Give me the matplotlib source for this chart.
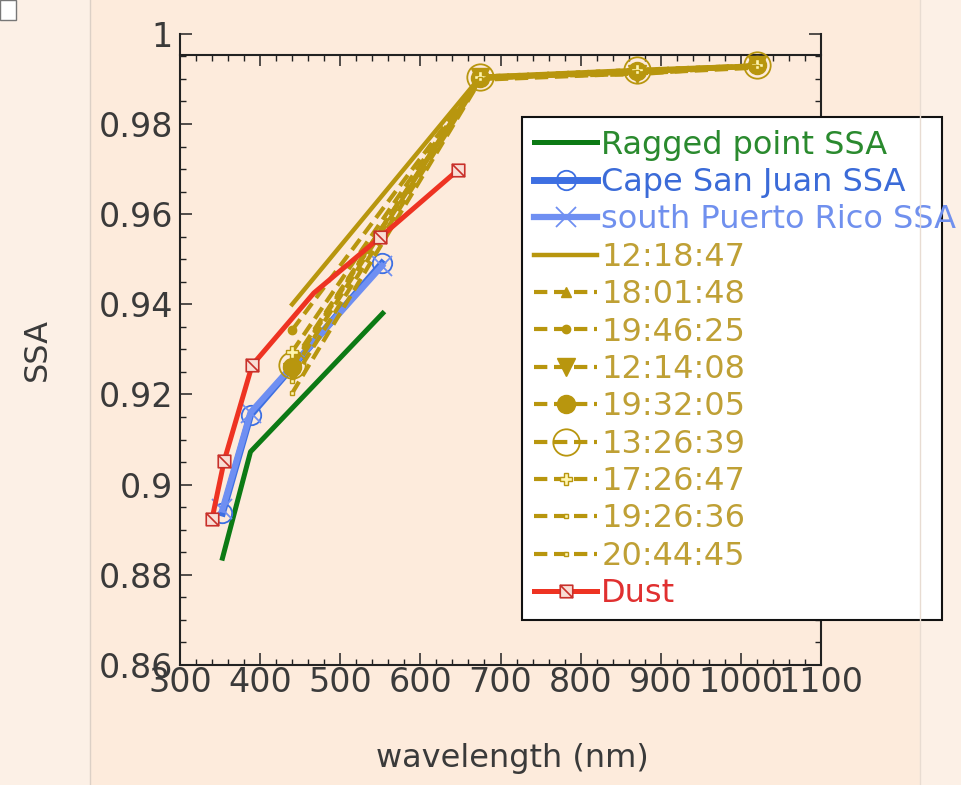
import numpy as np
import matplotlib
matplotlib.use("Agg")
import matplotlib.pyplot as plt
from matplotlib.path import Path
from matplotlib.patches import Rectangle
from matplotlib.lines import Line2D
from matplotlib.ticker import MultipleLocator, FixedLocator, FuncFormatter

# ---- data ----
ragged_wl = [353, 388, 553]
ragged_ssa = [0.8837, 0.9073, 0.9380]

csj_wl = [353, 388, 552]
csj_ssa = [0.8937, 0.9154, 0.9491]

spr_wl = [353, 388, 552]
spr_ssa = [0.8945, 0.9160, 0.9485]

aeronet_wl = [440, 675, 870, 1020]
t121847 = [0.9400, 0.9905, 0.9915, 0.9928]
t180148 = [0.9270, 0.9900, 0.9918, 0.9930]
t194625 = [0.9343, 0.9902, 0.9916, 0.9928]
t121408 = [0.9250, 0.9905, 0.9910, 0.9930]
t193205 = [0.9262, 0.9903, 0.9918, 0.9930]
t132639 = [0.9265, 0.9905, 0.9920, 0.9930]
t172647 = [0.9295, 0.9905, 0.9920, 0.9930]
t192636 = [0.9203, 0.9898, 0.9912, 0.9925]
t204445 = [0.9230, 0.9900, 0.9915, 0.9927]

dust_wl = [340, 355, 390, 467, 550, 647]
dust_ssa = [0.8924, 0.9052, 0.9265, 0.9425, 0.9549, 0.9698]

ytick_vals = [0.86, 0.88, 0.90, 0.92, 0.94, 0.96, 0.98, 1.00]
ytick_labels = ["0.86", "0.88", "0.9", "0.92", "0.94", "0.96", "0.98", "1"]

# colours
GREEN = "#0c7a14"
BLUE = "#3d6fe2"
LBLUE = "#6f8ff2"
GOLD = "#b8960e"
RED = "#ee3322"
BG = "#fdebdc"
BG_LIGHT = "#fcf0e6"

plt.rcParams["font.family"] = ["DejaVu Sans"]
plt.rcParams["xtick.direction"] = "in"
plt.rcParams["ytick.direction"] = "in"

fig = plt.figure(figsize=(9.61, 7.85), dpi=100, facecolor=BG)

# window-like lighter side strips
fig.patches.append(Rectangle((0, 0), 90 / 961, 1, transform=fig.transFigure,
                             facecolor=BG_LIGHT, edgecolor="none", zorder=-2))
fig.patches.append(Rectangle((920 / 961, 0), 41 / 961, 1, transform=fig.transFigure,
                             facecolor=BG_LIGHT, edgecolor="none", zorder=-2))
fig.lines.append(Line2D([90 / 961, 90 / 961], [0, 1], transform=fig.transFigure,
                        color="#dcd0c6", lw=1.0))
fig.lines.append(Line2D([920 / 961, 920 / 961], [0, 1], transform=fig.transFigure,
                        color="#e8dcd2", lw=1.0))
fig.patches.append(Rectangle((0, 1 - 20 / 785), 16 / 961, 20 / 785, transform=fig.transFigure,
                             facecolor="white", edgecolor="#777777", lw=1.0))

ax = fig.add_axes([180 / 961, 1 - 665 / 785, 641 / 961, (665 - 33.8) / 785])
ax.set_facecolor(BG)

# dust marker: square with a diagonal
sq = Path([(-1, 1), (1, 1), (1, -1), (-1, -1), (-1, 1), (-1, 1), (1, -1)],
          [Path.MOVETO, Path.LINETO, Path.LINETO, Path.LINETO, Path.CLOSEPOLY,
           Path.MOVETO, Path.LINETO])

dash = (0, (3.2, 1.6))

ax.plot(ragged_wl, ragged_ssa, color=GREEN, lw=3.6, label="Ragged point SSA")
ax.plot(csj_wl, csj_ssa, color=BLUE, lw=5, marker="o", ms=14, mfc="none",
        mec=BLUE, mew=1.3, label="Cape San Juan SSA")
ax.plot(spr_wl, spr_ssa, color=LBLUE, lw=4.5, marker="x", ms=14, mec=LBLUE,
        mew=1.3, label="south Puerto Rico SSA")

ax.plot(aeronet_wl, t121847, color=GOLD, lw=3.2, label="12:18:47")
ax.plot(aeronet_wl, t180148, color=GOLD, lw=3.0, ls=dash, marker="^", ms=6.5,
        label="18:01:48")
ax.plot(aeronet_wl, t194625, color=GOLD, lw=3.0, ls=dash, marker="o", ms=6,
        label="19:46:25")
ax.plot(aeronet_wl, t121408, color=GOLD, lw=3.0, ls=dash, marker="v", ms=13,
        label="12:14:08")
ax.plot(aeronet_wl, t193205, color=GOLD, lw=3.0, ls=dash, marker="o", ms=13,
        label="19:32:05")
ax.plot(aeronet_wl, t132639, color=GOLD, lw=3.0, ls=dash, marker="o", ms=19,
        mfc="none", mew=1.3, label="13:26:39")
ax.plot(aeronet_wl, t172647, color=GOLD, lw=3.0, ls=dash, marker="P", ms=8,
        mfc="#fff6b0", mec=GOLD, mew=1.0, label="17:26:47")
ax.plot(aeronet_wl, t192636, color=GOLD, lw=3.0, ls=dash, marker="s", ms=3.5,
        mfc="#fff6b0", mec=GOLD, mew=1.0, label="19:26:36")
ax.plot(aeronet_wl, t204445, color=GOLD, lw=3.0, ls=dash, marker="s", ms=3.5,
        mfc="#fff6b0", mec=GOLD, mew=1.0, label="20:44:45")

ax.plot(dust_wl, dust_ssa, color=RED, lw=3.6, marker=sq, ms=9, mfc="#f9ddd4",
        mec="#c8302a", mew=1.2, markevery=[0, 1, 2, 4, 5], label="Dust")

ax.set_xlim(300, 1100)
ax.set_ylim(0.86, 1.0)
ax.xaxis.set_major_locator(MultipleLocator(100))
ax.xaxis.set_minor_locator(MultipleLocator(20))
ax.yaxis.set_major_locator(FixedLocator(ytick_vals))
ax.yaxis.set_major_formatter(FuncFormatter(
    lambda v, p: ytick_labels[int(round((v - 0.86) / 0.02))]))
ax.yaxis.set_minor_locator(MultipleLocator(0.005))

ax.spines["top"].set_visible(False)
for s in ("left", "right", "bottom"):
    ax.spines[s].set_linewidth(1.5)
    ax.spines[s].set_color("#222222")

ax.tick_params(axis="both", which="major", length=8.6, width=1.1, color="#222222",
               labelsize=24, labelcolor="#3a3a3a")
ax.tick_params(axis="both", which="minor", length=4.3, width=1.0, color="#222222")
ax.tick_params(axis="y", which="both", right=True, pad=5)
ax.tick_params(axis="x", which="both", top=False, pad=1)

# the offset top axis line
top_pos = (0.9953 - 0.86) / 0.14
sec = ax.secondary_xaxis(top_pos)
sec.xaxis.set_major_locator(MultipleLocator(100))
sec.xaxis.set_minor_locator(MultipleLocator(20))
sec.tick_params(which="major", direction="in", length=8, width=1.1,
                color="#222222", labeltop=False)
sec.tick_params(which="minor", direction="in", length=4.3, width=1.0,
                color="#222222")
sec.spines["top"].set_linewidth(1.5)
sec.spines["top"].set_color("#222222")

ax.set_xlabel("wavelength (nm)", fontsize=23, color="#3a3a3a")
ax.set_ylabel("SSA", fontsize=23, color="#3a3a3a")
ax.xaxis.set_label_coords(0.518, -0.124)
ax.yaxis.set_label_coords(-0.198, 0.5)

# legend box drawn by hand so that the long label can run past it, as in the original
box = Rectangle((522 / 961, 1 - 620 / 785), 420 / 961, 503 / 785,
                transform=fig.transFigure, facecolor="white", edgecolor="#111111",
                lw=1.5, zorder=4.9, clip_on=False)
ax.add_patch(box)

leg = ax.legend(loc="upper left", bbox_to_anchor=(524 / 961, 1 - 120 / 785),
                bbox_transform=fig.transFigure, fontsize=23, frameon=False,
                borderpad=0.3, borderaxespad=0,
                handlelength=2.0, handletextpad=0.12, labelspacing=0.2,
                numpoints=1)
text_colors = ["#2a8a2e", "#3b6bd8", "#7090ee"] + ["#bfa035"] * 9 + ["#e03030"]
for t, c in zip(leg.get_texts(), text_colors):
    t.set_color(c)

fig.savefig("out.png", dpi=100, facecolor=fig.get_facecolor())
